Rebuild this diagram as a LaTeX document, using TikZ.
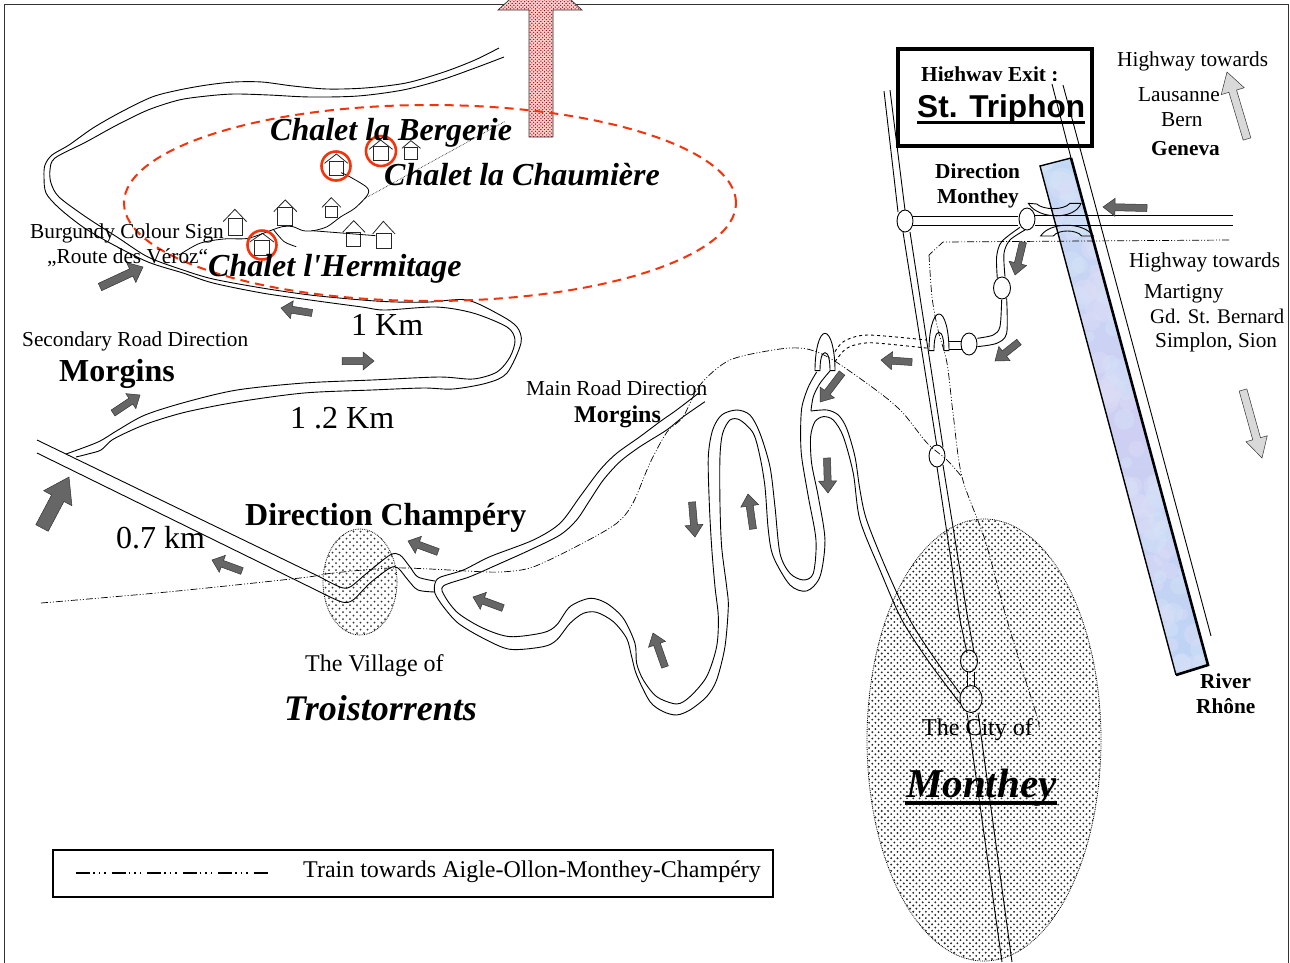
\documentclass[tikz,border=0pt]{standalone}
\usepackage{fontspec}
\setmainfont{Liberation Serif}[Ligatures=TeXOff]
\newfontfamily\arialfont{Liberation Sans}
\usetikzlibrary{calc,patterns,shapes.geometric}
\pgfdeclarepatternformonly{reddots}{\pgfqpoint{-1pt}{-1pt}}{\pgfqpoint{4pt}{4pt}}{\pgfqpoint{3.6pt}{3.6pt}}{%
  \pgfpathcircle{\pgfqpoint{0.9pt}{0.9pt}}{0.7pt}\pgfpathcircle{\pgfqpoint{2.7pt}{2.7pt}}{0.7pt}\pgfusepath{fill}}
\definecolor{arrgray}{HTML}{666666}
\definecolor{lightarr}{HTML}{D9D9D9}
\definecolor{redline}{HTML}{F5320A}
\definecolor{rivera}{HTML}{C2D9F5}
\definecolor{riverb}{HTML}{CFCFF3}
\definecolor{riverc}{HTML}{BCD5F5}
\tikzset{
  roadline/.style={line width=0.9pt,black},
  trainline/.style={line width=0.7pt,black,dash pattern=on 7pt off 2pt on 1pt off 2pt on 1pt off 2pt},
  junction/.style={ellipse,draw=black,line width=0.9pt,inner sep=0pt,minimum width=#1},
  house/.style={line width=0.8pt,draw=black!85},
  txt/.style={anchor=base west,inner sep=0pt,font=\fontsize{21.3}{26}\selectfont},
  txtm/.style={txt,font=\fontsize{24}{28}\selectfont},
  txtb/.style={txt,font=\fontsize{21.3}{26}\selectfont\bfseries},
  big/.style={txt,font=\fontsize{32}{36}\selectfont},
  bigb/.style={txt,font=\fontsize{32}{36}\selectfont\bfseries},
  chalet/.style={txt,font=\fontsize{32}{36}\selectfont\bfseries\itshape},
  zone/.style={line width=0.8pt,densely dotted,draw=black},
  zone1/.style={x=.3444pt,y=-.3333pt},
  zone2/.style={shift={(780pt,-130pt)},x=.3333pt,y=-.3333pt},
  zone3/.style={shift={(400pt,-380pt)},x=.3333pt,y=-.3333pt},
  zone6/.style={shift={(880pt,0pt)},x=.3333pt,y=-.3333pt},
}
\newcommand\blockarrow[6][arrgray]{%
  \coordinate (ta) at (#2); \coordinate (tb) at (#3);
  \coordinate (tn) at ($(tb)!#6pt!(ta)$);
  \draw[line width=0.5pt,draw=black!80,fill=#1]
    ($(ta)!#4pt!90:(tb)$) -- ($(tn)!#4pt!90:(tb)$) -- ($(tn)!#5pt!90:(tb)$) -- (tb)
    -- ($(tn)!#5pt!-90:(tb)$) -- ($(tn)!#4pt!-90:(tb)$) -- ($(ta)!#4pt!-90:(tb)$) -- cycle;
}
\begin{document}
\begin{tikzpicture}[x=1pt,y=-1pt]
\useasboundingbox (0,0) rectangle (1290,962);
\clip (0,0) rectangle (1290,962);
\fill[white] (0,0) rectangle (1290,962);
% sheet frame
\draw[line width=1pt,black!80] (4,990) -- (4,4) -- (1288,4) -- (1288,990);
% built-up areas
\begin{scope}
\clip (984,740) ellipse [x radius=117pt,y radius=221pt];
\foreach \i in {0,...,37}{\foreach \j in {0,...,141}{
  \pgfmathsetmacro\dx{866+\i*6.3+mod(\j,2)*3.15}
  \pgfmathsetmacro\dy{518+\j*3.15}
  \fill[black!85] (\dx,\dy) circle [radius=1.05pt];
}}
\end{scope}
\draw[zone] (984,740) ellipse [x radius=117pt,y radius=221pt];
\begin{scope}
\clip (360,582) ellipse [x radius=37pt,y radius=53pt];
\foreach \i in {0,...,11}{\foreach \j in {0,...,31}{
  \pgfmathsetmacro\dx{322+\i*7+mod(\j,2)*3.5}
  \pgfmathsetmacro\dy{528+\j*3.5}
  \fill[black!80] (\dx,\dy) circle [radius=1pt];
}}
\end{scope}
\draw[zone] (360,582) ellipse [x radius=37pt,y radius=53pt];
% big red arrow
\fill[red!18] (529,137) -- (529,10) -- (498,10) -- (540,-28) -- (582,10) -- (553,10) -- (553,137) -- cycle;
\fill[pattern=reddots,pattern color=red!70!black] (529,137) -- (529,10) -- (498,10) -- (540,-28) -- (582,10) -- (553,10) -- (553,137) -- cycle;
\draw[line width=0.7pt,black!80] (529,137) -- (529,10) -- (498,10) -- (540,-28) -- (582,10) -- (553,10) -- (553,137) -- cycle;
% upper loop road
\draw[roadline] plot[smooth,tension=.5] coordinates {(499,48)(475,60)(444,72)(406,83)(365,88)(327,89)(293,86)(262,82)(234,82)(207,85)(179,90)(152,97)(121,112)(93,128)(69,145)(52,155)(45,165)(44,177)(46,193)(59,208)(83,227)(110,243)(148,262)(183,273)(213,283)(262,293)(310,300)(362,307)(385,310)(436,307)(473,313)(507,327)(515,340)(510,357)(497,372)(473,379)(439,377)(372,380)(304,383)(237,390)(186,402)(145,415)(118,430)(98,442)(66,454)};
\draw[roadline] plot[smooth,tension=.5] coordinates {(504,57)(475,68)(441,80)(403,90)(358,96)(310,97)(269,95)(234,94)(207,96)(179,100)(148,110)(117,125)(86,142)(55,158)(50,170)(51,183)(59,197)(86,217)(117,237)(148,257)(183,270)(213,279)(262,288)(310,295)(362,300)(396,302)(430,302)(467,300)(500,315)(517,327)(521,343)(507,373)(487,383)(453,389)(423,388)(372,390)(304,393)(237,402)(186,412)(152,422)(132,430)(112,440)(101,450)(88,454)(76,457)};
% road through Troistorrents
\draw[roadline] (37,440) -- (320,577);
\draw[roadline] plot[smooth,tension=.5] coordinates {(320,577)(340,587)(350,587)(367,573)(390,555)(400,555)(410,567)(418,577)(435,581)};
\draw[roadline] (37,453) -- (320,592);
\draw[roadline] plot[smooth,tension=.5] coordinates {(320,592)(342,602)(353,600)(370,583)(390,568)(398,568)(408,580)(418,590)(435,592)};
% winding road
\begin{scope}[zone3]
\draw[roadline] plot[smooth,tension=.5] coordinates {(895,40)(830,90)(780,125)(720,170)(650,220)(600,270)(540,350)(480,430)(400,480)(270,530)(190,570)(120,592)(105,610)(105,640)(130,680)(175,730)(250,775)(330,808)(430,800)(470,780)(510,730)(550,700)(590,697)(640,725)(680,775)(695,830)(710,885)(750,965)(790,995)(830,1005)(870,990)(920,950)(950,900)(975,800)(985,680)(980,620)(965,500)(960,370)(960,230)(968,160)(990,120)(1020,120)(1060,160)(1080,230)(1095,320)(1105,450)(1120,530)(1170,615)(1220,633)(1260,590)(1275,480)(1255,350)(1235,250)(1232,170)(1245,125)(1270,110)(1300,120)(1330,170)(1360,280)(1380,420)(1440,570)(1506,720)(1590,850)(1680,970)};
\draw[roadline] plot[smooth,tension=.5] coordinates {(915,65)(850,110)(800,150)(720,200)(660,245)(610,300)(570,360)(530,420)(480,465)(390,510)(290,555)(210,590)(130,618)(135,650)(175,700)(250,745)(330,770)(430,758)(470,735)(510,680)(570,655)(620,670)(670,715)(705,790)(710,850)(730,900)(770,950)(830,972)(870,950)(920,890)(950,800)(955,710)(945,620)(935,500)(928,370)(925,230)(938,150)(965,105)(1010,90)(1050,105)(1080,160)(1110,260)(1125,380)(1140,520)(1170,580)(1210,600)(1240,580)(1248,480)(1225,350)(1205,230)(1202,150)(1206,80)(1225,21)(1250,-24)};
\draw[roadline] plot[smooth,tension=.5] coordinates {(1290,-27)(1260,10)(1240,50)(1233,93)};
\draw[roadline] plot[smooth,tension=.5] coordinates {(1233,93)(1281,90)(1315,105)(1340,145)(1365,230)(1380,330)(1400,420)(1460,570)(1530,720)(1600,830)(1680,940)};
\end{scope}
% interchange near Monthey
\begin{scope}[zone2]
\draw[roadline] (105,722) .. controls (105,660) and (118,610) .. (135,610) .. controls (152,610) and (165,660) .. (165,722) -- (150,722) .. controls (150,690) and (145,668) .. (135,668) .. controls (125,668) and (120,690) .. (120,722) -- cycle;
\draw[roadline] (447,662) .. controls (447,600) and (460,552) .. (477,552) .. controls (494,552) and (507,600) .. (507,662) -- (492,662) .. controls (492,630) and (487,607) .. (477,607) .. controls (467,607) and (462,630) .. (462,662) -- cycle;
\draw[roadline,dashed] plot[smooth,tension=.6] coordinates {(165,665)(190,635)(240,617)(300,617)(440,630)};
\draw[roadline,dashed] plot[smooth,tension=.6] coordinates {(165,695)(200,655)(250,640)(300,640)(447,655)};
\draw[roadline] (507,635) -- (545,635) (507,657) -- (545,657);
\draw[roadline] plot[smooth,tension=.5] coordinates {(592,625)(640,615)(660,590)(665,510)};
\draw[roadline] plot[smooth,tension=.5] coordinates {(592,650)(650,640)(680,610)(680,505)};
\draw[roadline] plot[smooth,tension=.5] coordinates {(652,445)(650,380)(665,335)(720,292)};
\draw[roadline] plot[smooth,tension=.5] coordinates {(675,440)(672,370)(690,330)(735,300)};
\end{scope}
% legend and exit box
\node[draw,line width=1.5pt,minimum width=720pt,minimum height=47pt,anchor=north west,inner sep=0pt] (legendbox) at (52,849) {};
\draw[line width=1.2pt,dash pattern=on 14pt off 3pt on 1.5pt off 4pt on 1.5pt off 4pt on 1.5pt off 6pt] (76,873) -- (270,873);
\node[draw,line width=3.5pt,minimum width=194pt,minimum height=97pt,anchor=north west,inner sep=0pt] (exitbox) at (896,47) {};
\node[txtb] (exit1) at (921,81) {Highway Exit :};
\node[txt,fill=white,text height=36pt,text depth=0pt,font=\fontsize{31.6}{36}\selectfont\bfseries\arialfont] (exit2) at (917,117) {St. Triphon};
\draw[line width=3pt] (917,122) -- (1085,122);
% river and motorway
\begin{scope}
\clip (1040,166) -- (1071,158) -- (1208,665) -- (1176,675) -- cycle;
\shade[top color=rivera,bottom color=riverc,middle color=riverb] (1030,150) rectangle (1220,690);
\pgfmathsetseed{7}
\foreach \k in {1,...,90}{
  \pgfmathsetmacro\ry{160+rnd*510}
  \pgfmathsetmacro\rx{1040+(\ry-166)*.268+rnd*34}
  \pgfmathsetmacro\rr{5+rnd*9}
  \pgfmathparse{mod(\k,2)==0?"riverb":"rivera"}
  \fill[\pgfmathresult!70!white,opacity=.45] (\rx,\ry) circle [radius=\rr pt];
}
\end{scope}
\draw[line width=1.4pt] (1176,675) -- (1040,166) -- (1071,158);
\draw[line width=2.6pt] (1071,158) -- (1208,665) -- (1176,675);
\draw[roadline] (1052,84) -- (1071,158);
\draw[roadline] (1063,85) -- (1211,636);
\begin{scope}[zone6]
\draw[roadline] (445,610) -- (470,612) .. controls (490,630) and (550,632) .. (570,610) -- (603,610) .. controls (585,660) and (475,660) .. (445,610) -- cycle;
\draw[roadline] (482,708) .. controls (510,665) and (610,665) .. (640,708) -- (605,708) .. controls (590,688) and (535,688) .. (520,708) -- cycle;
\draw[roadline] (100,650) -- (415,650) (100,675) -- (415,675);
\draw[roadline] (465,647) -- (1058,647) (465,675) -- (1060,675);
\end{scope}
% main valley road
\draw[roadline] (884,91) -- (898,212) (890,90) -- (905,210);
\draw[roadline] (903,232) -- (937,447) (910,232) -- (943,447);
\draw[roadline] (937,467) -- (960,620) -- (967,653) (943,465) -- (968,620) -- (974,652);
\draw[roadline] (967,672) -- (967,687) (974,672) -- (974,687);
\draw[roadline] (967,713) -- (1002,962) (978,713) -- (1012,962);
% junctions
\node[junction=16pt,minimum height=22pt,fill=white] (j1) at (905,221) {};
\node[junction=16pt,minimum height=22pt,fill=white] (j2) at (1027,219) {};
\node[junction=17pt,minimum height=22pt,fill=white] (j3) at (1002,288) {};
\node[junction=16pt,minimum height=22pt,fill=white] (j4) at (969,344) {};
\node[junction=16pt,minimum height=22pt,fill=white] (j5) at (937,456) {};
\node[junction=17pt,minimum height=22pt] (j6) at (969,661) {};
\node[junction=22pt,minimum height=27pt] (j7) at (971,699) {};
% railway
\draw[trainline] plot[smooth,tension=.5] coordinates {(41,603)(167,592)(300,578)(333,573)(390,568)(430,569)(467,571)(500,572)(533,567)(583,543)(617,523)(633,503)(650,463)(667,432)(683,417)(700,385)(730,360)(780,349)(807,349)(833,360)(880,393)(903,413)(927,443)(947,460)(962,477)};
\draw[trainline] (1229,240) -- (943,242) -- (929,255);
\draw[trainline] plot[smooth,tension=.5] coordinates {(929,255)(932,297)(938,330)(947,363)(953,413)(962,477)(985,540)(1007,620)(1037,717)(1038,727)};
% chalet area
\begin{scope}[zone1]
\foreach \ax/\ay/\bl/\br/\bt/\bb/\rl/\rr/\ry in {682/628/662/705/655/707/648/716/665,828/600/806/850/622/677/795/862/635,962/593/945/980/620/652/935/990/622,977/462/955/998/483/527/942/1010/490,1105/420/1085/1128/440/482/1072/1140/448,1193/422/1175/1212/443/478/1167/1221/445,762/700/740/783/720/765/725/795/726,1027/662/1005/1047/697/740/995/1060/697,1113/664/1092/1135/700/745/1082/1147/702}{
  \draw[house] (\bl,\bt) rectangle (\br,\bb);
  \draw[house] (\rl,\ry) -- (\ax,\ay) -- (\rr,\ry);
}
\draw[line width=0.8pt] plot[smooth,tension=.5] coordinates {(990,518)(1015,530)(1065,562)(1067,585)(1030,625)(990,650)(950,680)(910,692)(880,692)(850,680)(820,680)(790,690)(720,715)(650,717)(580,730)(520,765)};
\draw[line width=0.8pt] plot[smooth,tension=.5] coordinates {(795,690)(825,725)(860,740)};
\draw[line width=0.8pt] (905,692) -- (1090,707);
\draw[line width=0.6pt,densely dotted] (1060,595) -- (1465,365);
\end{scope}
\draw[redline,line width=2.6pt] (336,166) circle [radius=14.5pt] (381,151) circle [radius=15pt] (262,245) circle [radius=14.5pt];
\draw[redline,line width=2pt,dash pattern=on 9pt off 6pt] (430,203) ellipse [x radius=306pt,y radius=98pt];
% direction arrows
\blockarrow{100,287}{143,267}{4}{11}{13}
\blockarrow{312,313}{281,308}{3.5}{9}{11}
\blockarrow{342,361}{374,361}{3.5}{9}{11}
\blockarrow{113,413}{140,395}{3.5}{9}{11}
\blockarrow[arrgray]{42,528}{69,477}{7}{16}{24}
\blockarrow{242,571}{212,560}{3.5}{9}{11}
\blockarrow{438,552}{408,541}{3.5}{9}{11}
\blockarrow{503,608}{473,597}{3.5}{9}{11}
\blockarrow{665,667}{653,633}{3.5}{9}{12}
\blockarrow{692,502}{695,537}{3.5}{9}{12}
\blockarrow{753,529}{748,494}{3.5}{9}{12}
\blockarrow{827,458}{828,493}{3.5}{9}{12}
\blockarrow{842,373}{820,402}{3.5}{9}{12}
\blockarrow{912,362}{881,360}{3.5}{9}{11}
\blockarrow{1019,342}{995,361}{3.5}{9}{12}
\blockarrow{1023,242}{1015,275}{3.5}{9}{12}
\blockarrow{1147,208}{1103,207}{3.5}{9}{12}
\blockarrow[lightarr]{1247,139}{1227,72}{4}{12}{20}
\blockarrow[lightarr]{1243,390}{1262,458}{4}{11}{20}
% labels
\node[chalet] (l1) at (270,140) {Chalet la Bergerie};
\node[chalet] (l2) at (384,185) {Chalet la Chaumière};
\node[chalet] (l3) at (208,276.5) {Chalet l'Hermitage};
\node[txt] (l4) at (30,238) {Burgundy Colour Sign};
\node[txt] (l5) at (47,263) {„Route des Véroz“};
\node[big] (l6) at (351,335) {1 Km};
\node[big] (l7) at (290,428) {1 .2 Km};
\node[txt] (l8) at (22,346) {Secondary Road Direction};
\node[bigb] (l9) at (59,381) {Morgins};
\node[bigb] (l10) at (245,525) {Direction Champéry};
\node[big] (l11) at (116,548) {0.7 km};
\node[txtm] (l12) at (305,671) {The Village of};
\node[txt,font=\fontsize{36}{40}\selectfont\bfseries\itshape] (l13) at (284,720) {Troistorrents};
\node[txt] (l14) at (526,395) {Main Road Direction};
\node[txt,font=\fontsize{24}{28}\selectfont\bfseries] (l15) at (574,422) {Morgins};
\node[txtb] (l16) at (935,178) {Direction};
\node[txtb] (l17) at (937,203) {Monthey};
\node[txt] (l18) at (1117,66) {Highway towards};
\node[txt] (l19) at (1138,101) {Lausanne};
\node[txt] (l20) at (1161,126) {Bern};
\node[txtb] (l21) at (1151,155) {Geneva};
\node[txt] (l22) at (1129,267) {Highway towards};
\node[txt] (l23) at (1144,298) {Martigny};
\node[txt,font=\fontsize{20.8}{26}\selectfont] (l24) at (1150,323) {Gd. St. Bernard};
\node[txt] (l25) at (1155,347) {Simplon, Sion};
\node[txtb] (l26) at (1200,688) {River};
\node[txtb] (l27) at (1196,713) {Rhône};
\node[txtm] (l28) at (922,735) {The City of};
\node[txt,font=\fontsize{41}{45}\selectfont\bfseries\itshape] (l29) at (906,797) {Monthey};
\draw[line width=4pt] (905,803) -- (1057,803);
\node[txtm] (l30) at (303,877) {Train towards Aigle-Ollon-Monthey-Champéry};
\end{tikzpicture}
\end{document}
